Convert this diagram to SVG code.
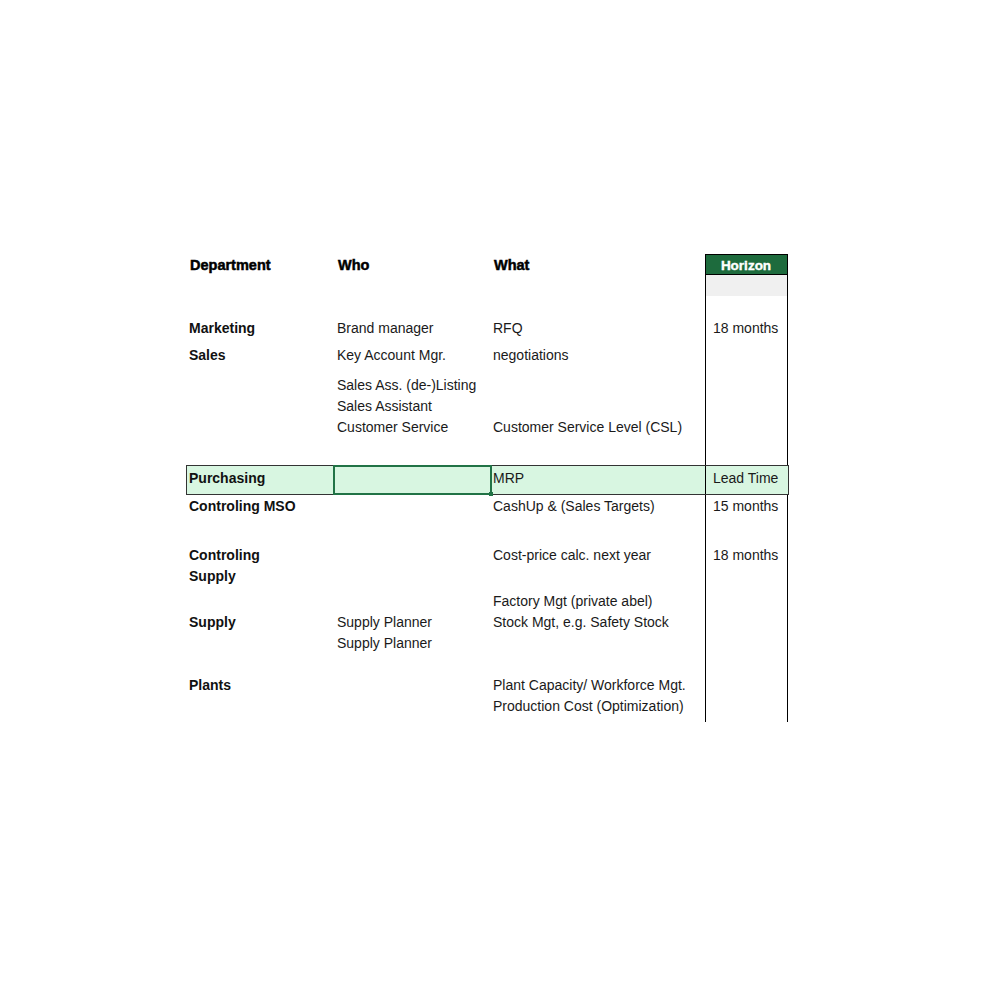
<svg xmlns="http://www.w3.org/2000/svg" width="1000" height="1000" viewBox="0 0 1000 1000">
<style>
.h{font-family:"Liberation Sans",Arial,sans-serif;font-size:14.5px;font-weight:bold;fill:#000;stroke:#000;stroke-width:0.5}
.t{font-family:"Liberation Sans",Arial,sans-serif;font-size:14px;fill:#1a1a1a}
.b{font-family:"Liberation Sans",Arial,sans-serif;font-size:14px;font-weight:bold;fill:#111}
.hw{font-family:"Liberation Sans",Arial,sans-serif;font-size:13.5px;font-weight:bold;fill:#fff;stroke:#fff;stroke-width:0.4}
</style>
<rect width="1000" height="1000" fill="#fff"/>
<g id="horizon-column">
<rect x="705" y="254" width="82" height="20" fill="#1d6b3d"/>
<rect x="706" y="275" width="81" height="21" fill="#f0f0f0"/>
<line x1="705.5" y1="254" x2="705.5" y2="722" stroke="#000" stroke-width="1"/>
<line x1="787.5" y1="254" x2="787.5" y2="722" stroke="#000" stroke-width="1"/>
<line x1="705" y1="254.5" x2="788" y2="254.5" stroke="#000" stroke-width="1"/>
<line x1="705" y1="274.5" x2="788" y2="274.5" stroke="#000" stroke-width="1"/>
<text class="hw" x="746" y="270" text-anchor="middle">Horizon</text>
</g>
<g id="header">
<text class="h" x="190" y="270">Department</text>
<text class="h" x="338" y="270">Who</text>
<text class="h" x="494" y="270">What</text>
</g>
<g id="row-marketing">
<text class="b" x="189" y="333">Marketing</text>
<text class="t" x="337" y="333">Brand manager</text>
<text class="t" x="493" y="333">RFQ</text>
<text class="t" x="713" y="333">18 months</text>
</g>
<g id="row-sales">
<text class="b" x="189" y="360">Sales</text>
<text class="t" x="337" y="360">Key Account Mgr.</text>
<text class="t" x="493" y="360">negotiations</text>
<text class="t" x="337" y="390">Sales Ass. (de-)Listing</text>
<text class="t" x="337" y="411">Sales Assistant</text>
<text class="t" x="337" y="432">Customer Service</text>
<text class="t" x="493" y="432">Customer Service Level (CSL)</text>
</g>
<g id="row-purchasing">
<rect x="186.5" y="465.5" width="602" height="29" fill="#d8f6e1" stroke="#333" stroke-width="1"/>
<line x1="705.5" y1="466" x2="705.5" y2="494" stroke="#000" stroke-width="1"/>
<rect x="334" y="466" width="157" height="28" fill="#d8f6e1" stroke="#217346" stroke-width="2"/>
<rect x="489" y="492" width="4" height="4" fill="#217346"/>
<text class="b" x="189" y="483">Purchasing</text>
<text class="t" x="493" y="483">MRP</text>
<text class="t" x="713" y="483">Lead Time</text>
</g>
<g id="row-controling-mso">
<text class="b" x="189" y="511">Controling MSO</text>
<text class="t" x="493" y="511">CashUp &amp; (Sales Targets)</text>
<text class="t" x="713" y="511">15 months</text>
</g>
<g id="row-controling-supply">
<text class="b" x="189" y="560">Controling</text>
<text class="b" x="189" y="581">Supply</text>
<text class="t" x="493" y="560">Cost-price calc. next year</text>
<text class="t" x="713" y="560">18 months</text>
</g>
<g id="row-supply">
<text class="t" x="493" y="606">Factory Mgt (private abel)</text>
<text class="b" x="189" y="627">Supply</text>
<text class="t" x="337" y="627">Supply Planner</text>
<text class="t" x="493" y="627">Stock Mgt, e.g. Safety Stock</text>
<text class="t" x="337" y="648">Supply Planner</text>
</g>
<g id="row-plants">
<text class="b" x="189" y="690">Plants</text>
<text class="t" x="493" y="690">Plant Capacity/ Workforce Mgt.</text>
<text class="t" x="493" y="711">Production Cost (Optimization)</text>
</g>
<g id="connectors"></g>
</svg>
